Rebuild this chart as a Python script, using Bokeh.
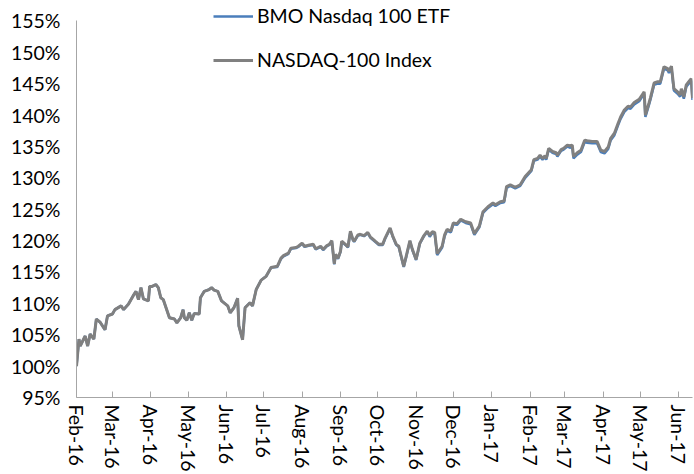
import pandas as pd
from bokeh.plotting import figure
from bokeh.models import Range1d, FixedTicker, PrintfTickFormatter, DatetimeTickFormatter
from bokeh.embed import file_html
from bokeh.resources import INLINE

# ---- data ----
start_date = "2016-02-01"
days = [0, 2, 3, 5, 7, 9, 11, 14, 16, 19,
        23, 25, 29, 31, 36, 38, 42, 46, 48, 50,
        52, 54, 58, 59, 61, 64, 66, 68, 70, 75,
        79, 81, 84, 86, 87, 89, 91, 93, 95, 99,
        100, 103, 107, 109, 111, 114, 117, 122, 124, 127,
        130, 131, 134, 136, 140, 142, 145, 149, 153, 157,
        162, 165, 167, 171, 173, 177, 179, 182, 184, 188,
        191, 193, 195, 197, 199, 202, 204, 206, 208, 209,
        211, 213, 214, 217, 219, 221, 223, 224, 227, 229,
        232, 235, 237, 241, 244, 247, 249, 253, 255, 258,
        260, 262, 264, 266, 269, 271, 274, 277, 280, 283,
        285, 287, 289, 291, 295, 297, 299, 302, 304, 307,
        310, 314, 318, 321, 325, 328, 332, 336, 338, 342,
        345, 347, 350, 354, 358, 362, 367, 369, 372, 374,
        376, 378, 379, 381, 384, 387, 388, 391, 393, 396,
        398, 400, 401, 404, 407, 410, 412, 416, 420, 423,
        426, 429, 431, 434, 437, 439, 442, 445, 447, 450,
        454, 457, 458, 459, 462, 463, 466, 469, 471, 474,
        477, 478, 480, 482, 485, 487, 488, 490, 492, 494,
        496, 497]

nasdaq_index = [100.0, 104.3, 103.2, 104.0, 104.8, 103.2, 105.1, 104.3, 107.5, 107.0,
                105.8, 108.0, 108.3, 109.0, 109.6, 109.0, 109.9, 111.3, 111.9, 110.6,
                112.5, 110.7, 110.4, 112.7, 112.7, 113.0, 112.5, 110.9, 110.6, 107.7,
                107.5, 106.9, 107.7, 109.0, 107.7, 107.3, 108.5, 107.3, 108.4, 108.3,
                110.9, 111.9, 112.2, 112.5, 112.1, 111.9, 110.4, 109.6, 108.5, 109.3,
                110.8, 106.4, 104.2, 109.3, 110.1, 109.6, 112.2, 113.7, 114.3, 115.7,
                115.9, 117.2, 117.6, 118.0, 118.8, 118.9, 119.1, 119.6, 119.1, 119.3,
                119.4, 118.7, 118.9, 119.1, 118.6, 119.2, 119.4, 120.0, 116.3, 117.8,
                117.2, 118.3, 119.9, 119.4, 119.0, 121.5, 120.2, 119.9, 120.9, 121.0,
                120.8, 121.3, 120.6, 119.9, 119.4, 119.4, 120.4, 122.0, 120.8, 119.4,
                119.1, 117.5, 115.9, 117.5, 120.0, 118.6, 117.0, 119.6, 120.7, 121.5,
                120.8, 121.4, 121.3, 117.9, 119.1, 120.9, 121.8, 121.5, 122.8, 122.7,
                123.4, 123.0, 122.8, 121.1, 122.3, 124.6, 125.4, 126.0, 125.7, 126.2,
                126.3, 128.6, 128.9, 128.5, 128.9, 130.2, 131.3, 132.9, 133.1, 133.6,
                133.1, 133.5, 133.1, 134.7, 134.2, 134.0, 133.6, 134.5, 134.7, 135.2,
                135.1, 135.2, 133.4, 134.0, 134.4, 136.0, 135.9, 135.8, 135.8, 134.4,
                134.2, 134.9, 136.3, 137.1, 138.7, 139.7, 140.8, 141.4, 141.3, 142.0,
                142.5, 143.4, 143.7, 140.0, 142.0, 142.7, 145.1, 145.3, 145.3, 147.7,
                147.4, 147.0, 147.8, 144.2, 143.7, 143.2, 144.2, 142.9, 144.8, 145.3,
                145.8, 142.7]

bmo_etf = [100.0, 104.3, 103.2, 104.0, 104.8, 103.2, 105.1, 104.3, 107.5, 107.0,
           105.8, 108.0, 108.3, 109.0, 109.6, 109.0, 109.9, 111.3, 111.9, 110.6,
           112.5, 110.7, 110.4, 112.7, 112.7, 113.0, 112.5, 110.9, 110.6, 107.7,
           107.5, 106.9, 107.7, 109.0, 107.7, 107.3, 108.5, 107.3, 108.4, 108.3,
           110.9, 111.9, 112.2, 112.5, 112.1, 111.9, 110.4, 109.6, 108.5, 109.3,
           110.8, 106.4, 104.2, 109.3, 110.1, 109.6, 112.2, 113.7, 114.3, 115.7,
           115.8, 117.1, 117.5, 117.9, 118.7, 118.8, 119.0, 119.5, 119.0, 119.2,
           119.3, 118.6, 118.8, 119.0, 118.5, 119.1, 119.3, 119.9, 116.2, 117.7,
           117.1, 118.2, 119.8, 119.3, 118.9, 121.4, 120.1, 119.8, 120.8, 120.9,
           120.7, 121.2, 120.5, 119.8, 119.3, 119.3, 120.3, 121.9, 120.7, 119.3,
           119.0, 117.4, 115.8, 117.4, 119.9, 118.5, 116.9, 119.5, 120.6, 121.4,
           120.6, 121.2, 121.1, 117.7, 118.9, 120.7, 121.6, 121.3, 122.6, 122.5,
           123.2, 122.8, 122.6, 120.9, 122.1, 124.4, 125.2, 125.8, 125.5, 126.0,
           126.1, 128.4, 128.7, 128.3, 128.7, 130.0, 131.1, 132.7, 132.9, 133.4,
           132.9, 133.3, 132.9, 134.5, 134.0, 133.8, 133.4, 134.3, 134.5, 135.0,
           134.8, 134.9, 133.1, 133.7, 134.1, 135.7, 135.6, 135.5, 135.5, 134.1,
           133.9, 134.6, 136.0, 136.8, 138.4, 139.4, 140.5, 141.1, 141.0, 141.7,
           142.2, 143.1, 143.4, 139.7, 141.7, 142.4, 144.8, 145.0, 145.0, 147.4,
           147.1, 146.7, 147.5, 143.9, 143.4, 142.9, 143.9, 142.6, 144.5, 145.0,
           145.5, 142.4]

series_names = ["BMO Nasdaq 100 ETF", "NASDAQ-100 Index"]
y_ticks = list(range(95, 156, 5))
month_ticks = pd.date_range("2016-02-01", "2017-06-01", freq="MS")

dates = pd.Timestamp(start_date) + pd.to_timedelta(days, unit="D")

FONT = "Lato"
FONT_SIZE = "19.5px"
AXIS_GRAY = "#a6a6a6"

p = figure(width=694, height=474, output_backend="svg", toolbar_location=None,
           x_axis_type="datetime",
           x_range=Range1d(dates[0], dates[-1]), y_range=Range1d(95, 158.25),
           min_border_left=76, min_border_right=2, min_border_top=0,
           min_border_bottom=75)
p.outline_line_color = None
p.xgrid.visible = False
p.ygrid.visible = False
p.background_fill_color = "white"
p.border_fill_color = "white"

p.line(dates, bmo_etf, line_color="#4a7ebb", line_width=2.5, legend_label=series_names[0])
p.line(dates, nasdaq_index, line_color="#808080", line_width=3, legend_label=series_names[1])

# y axis
p.yaxis.ticker = FixedTicker(ticks=y_ticks)
p.yaxis.bounds = (95, 155)
p.yaxis.formatter = PrintfTickFormatter(format="%d%%")
p.yaxis.axis_line_color = AXIS_GRAY
p.yaxis.major_tick_out = 0
p.yaxis.major_tick_in = 0
p.yaxis.minor_tick_line_color = None
p.yaxis.major_label_standoff = 16
p.yaxis.major_label_text_font = FONT
p.yaxis.major_label_text_font_size = FONT_SIZE
p.yaxis.major_label_text_color = "black"

# x axis
p.xaxis.ticker = FixedTicker(ticks=[t.value / 1e6 for t in month_ticks])
fmt = "%b-%y"
p.xaxis.formatter = DatetimeTickFormatter(
    milliseconds=fmt, seconds=fmt, minsec=fmt, minutes=fmt, hourmin=fmt,
    hours=fmt, days=fmt, months=fmt, years=fmt)
p.xaxis.axis_line_color = AXIS_GRAY
p.xaxis.major_tick_line_color = AXIS_GRAY
p.xaxis.major_tick_in = 6
p.xaxis.major_tick_out = 0
p.xaxis.minor_tick_line_color = None
p.xaxis.major_label_orientation = "vertical"
p.xaxis.major_label_standoff = 7
p.xaxis.major_label_text_font = FONT
p.xaxis.major_label_text_font_size = FONT_SIZE
p.xaxis.major_label_text_color = "black"

# legend
lg = p.legend[0]
lg.location = (137, 326)
lg.padding = 0
lg.margin = 0
lg.spacing = 21
lg.glyph_width = 40
lg.glyph_height = 20
lg.label_height = 20
lg.label_standoff = 4
lg.label_text_font = FONT
lg.label_text_font_size = FONT_SIZE
lg.label_text_color = "black"
lg.border_line_color = None
lg.background_fill_alpha = 0

open("out.html", "w").write(file_html(p, INLINE))
